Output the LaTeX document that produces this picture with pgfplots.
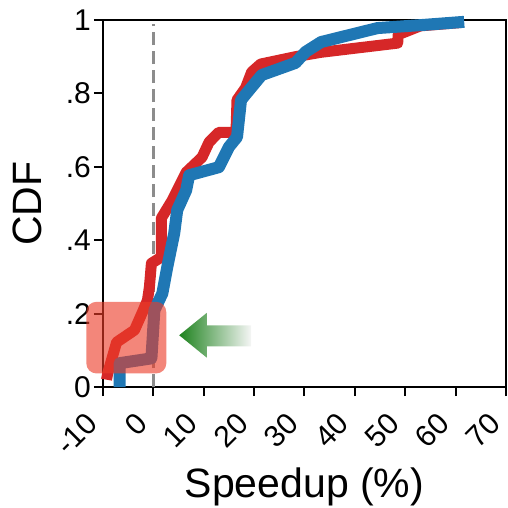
\documentclass[border=0pt]{standalone}
\usepackage{fontspec}
\setmainfont{Liberation Sans}
\usepackage{pgfplots}
\pgfplotsset{compat=1.18}
\definecolor{tred}{RGB}{214,39,40}
\definecolor{tblue}{RGB}{31,119,180}
\definecolor{boxred}{RGB}{235,60,40}
\definecolor{arrgreen}{RGB}{30,130,30}
\begin{document}
\begin{tikzpicture}
\useasboundingbox (-103pt,-120pt) rectangle (405pt,387pt);
\begin{axis}[
  at={(0,0)}, anchor=south west,
  scale only axis, width=403pt, height=367pt,
  xmin=-10, xmax=70, ymin=0, ymax=1,
  xtick={-10,0,10,20,30,40,50,60,70},
  xticklabels={-10,0,10,20,30,40,50,60,70},
  ytick={0,0.2,0.4,0.6,0.8,1},
  yticklabels={0,.2,.4,.6,.8,1},
  tick pos=left, tick align=outside, major tick length=9pt,
  tick style={black, line width=2pt},
  axis line style={line width=2.5pt},
  /pgf/number format/assume math mode=true,
  tick label style={font=\fontsize{30}{34}\selectfont},
  xticklabel style={xshift=-19pt, yshift=-13pt, rotate=45, anchor=north east, inner sep=1pt},
  yticklabel style={inner sep=3pt},
  xlabel={Speedup (\%)}, ylabel={CDF},
  label style={font=\fontsize{41}{46}\selectfont},
  xlabel style={at={(axis description cs:0.5,-0.301)}, anchor=base},
  ylabel style={at={(axis description cs:-0.187,0.5)}, anchor=center},
  clip=false,
]
\addplot[color={rgb,255:red,140;green,140;blue,140}, line width=2.5pt, dash pattern=on 13pt off 6pt] coordinates {(0,0) (0,0.99)};
\addplot[tred, line width=11pt, line join=round, line cap=butt] coordinates {
(-9.3,0.02) (-9.07,0.037) (-7.3,0.122) (-3.75,0.155) (-2.17,0.204) (-1.18,0.236) (-0.79,0.272)
(-0.39,0.337) (1.58,0.354) (1.58,0.460) (3.75,0.509) (6.51,0.585) (9.66,0.626)
(11.05,0.667) (13.0,0.694) (16.4,0.694) (16.6,0.782) (18.3,0.815) (19.5,0.858)
(21.3,0.880) (28.2,0.900) (33.3,0.912) (48.5,0.937) (48.6,0.96) (53.0,0.984) (61.0,0.993)
};
\addplot[tblue, line width=12pt, line join=round, line cap=butt] coordinates {
(-6.69,0.0) (-6.69,0.065) (-0.39,0.078) (0.2,0.209) (1.78,0.255) (2.76,0.327)
(4.14,0.419) (4.73,0.482) (6.51,0.536) (7.1,0.577) (13.0,0.599) (15.0,0.654)
(16.6,0.681) (17.4,0.782) (19.5,0.817) (21.5,0.850) (28.2,0.883) (30.2,0.913)
(33.3,0.940) (44.5,0.978) (53.0,0.986) (61.7,0.995)
};
\fill[boxred, fill opacity=0.62, rounded corners=10pt] (axis cs:-13.3,0.037) rectangle (axis cs:2.56,0.232);
\shade[left color=arrgreen, right color={rgb,255:red,245;green,246;blue,245}]
 (axis cs:5.13,0.141) -- (axis cs:10.6,0.202) -- (axis cs:10.6,0.168) -- (axis cs:19.4,0.168)
 -- (axis cs:19.4,0.111) -- (axis cs:10.6,0.111) -- (axis cs:10.6,0.080) -- cycle;
\end{axis}
\end{tikzpicture}
\end{document}
